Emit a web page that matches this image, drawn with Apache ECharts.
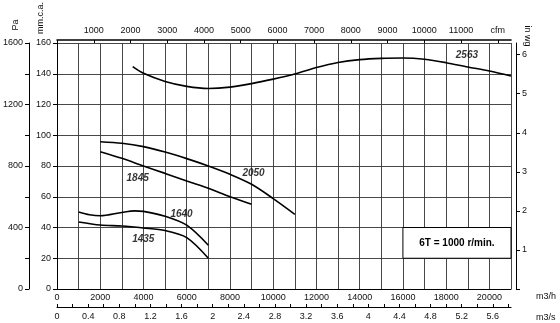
<!DOCTYPE html>
<html><head><meta charset="utf-8">
<script src="https://cdn.jsdelivr.net/npm/echarts@6/dist/echarts.min.js"></script>
<style>html,body{margin:0;padding:0;background:#fff}#c{width:560px;height:323px}</style>
</head><body><div id="c"></div>
<script>
// ---- data (flow in m3/h, pressure in mm w.c.) ----
const q2563 = [3500,4000,5000,6000,7000,8000,9000,10000,11000,12000,13000,14000,15000,16000,17000,18000,19000,20000,21000];
const h2563 = [144.6,140.3,135.0,131.8,130.4,131.3,133.6,136.5,139.8,144.0,147.3,149.2,150.0,150.2,149.4,147.2,144.4,141.8,138.5];
const q2050 = [2000,3000,4000,5000,6000,7000,8000,9000,10000,11000];
const h2050 = [95.8,94.8,92.6,89.1,84.8,80.0,74.6,68.1,58.8,48.6];
const q1845 = [2000,3000,4000,5000,6000,7000,8000,9000];
const h1845 = [89.3,85.0,80.0,75.2,70.2,65.5,60.0,55.1];
const q1640 = [1000,1500,2000,3000,3600,4000,5000,6000,7000];
const h1640 = [50.1,48.3,47.6,49.8,50.8,50.5,47.3,41.5,28.5];
const q1435 = [1000,2000,3000,4000,5000,6000,7000];
const h1435 = [43.6,41.6,41.0,39.7,38.0,33.4,20.0];

const curveNames = ['2563','2050','1845','1640','1435'];
const labelQ = [18960, 9090, 3730, 5760, 3990];
const labelH = [152.2, 75.3, 72.0, 48.6, 32.5];

const qMax = 21000;      // m3/h
const mmMax = 160;       // mm w.c.
const paMax = 1600;      // Pa
const inwgMax = 160 / 25.4;
const cfmMax = 21000 / 1.699;
const m3sMax = 21000 / 3600;
const speedNote = '6T = 1000 r/min.';

const FONT = '"Liberation Sans Narrow","Arial Narrow","Liberation Sans",Arial,sans-serif';
const txt = {color:'#111', fontFamily: FONT, fontSize: 9};

function pairs(q, h){ return q.map((v,i)=>[v,h[i]]); }

const chart = echarts.init(document.getElementById('c'), null, {renderer:'canvas'});
const curves = [[q2563,h2563],[q2050,h2050],[q1845,h1845],[q1640,h1640],[q1435,h1435]];

const series = curves.map((c,i)=>({
  type:'line', name: curveNames[i], xAxisIndex:0, yAxisIndex:0,
  data: pairs(c[0],c[1]), smooth:0.3, showSymbol:false, symbol:'none',
  lineStyle:{color:'#000', width:1.6}, z:5, silent:true
}));
series.push({
  type:'scatter', xAxisIndex:0, yAxisIndex:0, symbolSize:0, silent:true,
  data: curveNames.map((n,i)=>[labelQ[i], labelH[i], n]),
  label:{show:true, position:'inside', formatter:p=>p.data[2], color:'#000',
         fontFamily:'"Liberation Sans",Arial,sans-serif', fontSize:10, fontStyle:'italic', fontWeight:'bold'},
  z:6
});

const option = {
  backgroundColor:'#fff',
  animation:false,
  grid:{left:55, right:49, top:43, bottom:34, containLabel:false},
  xAxis:[
    { // m3/h
      type:'value', position:'bottom', min:0, max:qMax, interval:1000,
      axisLine:{show:true, onZero:false, lineStyle:{color:'#000', width:1.2}},
      axisTick:{show:false},
      splitLine:{show:true, lineStyle:{color:'#333', width:0.9}},
      axisLabel:Object.assign({margin:4, formatter:v=> (v%2000===0 ? String(v) : '')}, txt)
    },
    { // m3/s
      type:'value', position:'bottom', offset:18, min:0, max:m3sMax, interval:0.2,
      axisLine:{show:true, onZero:false, lineStyle:{color:'#000', width:1.2}},
      axisTick:{show:true, inside:true, length:3, lineStyle:{color:'#000'}},
      splitLine:{show:false},
      axisLabel:Object.assign({margin:5, showMaxLabel:false, formatter:v=>{const k=Math.round(v*10); return k%4===0 ? String(parseFloat((k/10).toFixed(1))) : '';}}, txt)
    },
    { // cfm
      type:'value', position:'top', offset:3, min:0, max:cfmMax, interval:1000,
      axisLine:{show:true, onZero:false, lineStyle:{color:'#000', width:1.6}},
      axisTick:{show:true, inside:true, length:3, lineStyle:{color:'#000'}},
      splitLine:{show:false},
      axisLabel:Object.assign({margin:5, showMaxLabel:false, formatter:v=> v===0 ? '' : (v===12000 ? 'cfm' : String(v))}, txt)
    }
  ],
  yAxis:[
    { // mm w.c.
      type:'value', position:'left', min:0, max:mmMax, interval:20,
      axisLine:{show:true, onZero:false, lineStyle:{color:'#000', width:1}},
      axisTick:{show:true, length:4, lineStyle:{color:'#000'}},
      splitLine:{show:true, lineStyle:{color:'#333', width:0.9}},
      axisLabel:Object.assign({margin:6}, txt)
    },
    { // Pa
      type:'value', position:'left', offset:28, min:0, max:paMax, interval:200,
      axisLine:{show:true, onZero:false, lineStyle:{color:'#000', width:1}},
      axisTick:{show:true, length:4, lineStyle:{color:'#000'}},
      splitLine:{show:false},
      axisLabel:Object.assign({margin:6, formatter:v=> v%400===0 ? String(v) : ''}, txt)
    },
    { // in wg
      type:'value', position:'right', offset:5, min:0, max:inwgMax, interval:1,
      axisLine:{show:true, onZero:false, lineStyle:{color:'#000', width:1}},
      axisTick:{show:true, length:4, lineStyle:{color:'#000'}},
      splitLine:{show:false},
      axisLabel:Object.assign({margin:6, showMaxLabel:false, formatter:v=> v===0 ? '' : String(v)}, txt)
    }
  ],
  series: series
};
chart.setOption(option);

// white note box covering the cells 16000-21000 m3/h, 20-40 mm
const p1 = chart.convertToPixel({xAxisIndex:0, yAxisIndex:0}, [16000, 40]);
const p2 = chart.convertToPixel({xAxisIndex:0, yAxisIndex:0}, [qMax, 20]);
chart.setOption({graphic:[
  {id:'t_pa', type:'text', x:16, y:25, rotation:Math.PI/2, style:{text:'Pa', fill:'#111', font:'9px '+FONT, align:'center', verticalAlign:'middle'}, z:60},
  {id:'t_mm', type:'text', x:41, y:18, rotation:Math.PI/2, style:{text:'mm.c.a.', fill:'#111', font:'9px '+FONT, align:'center', verticalAlign:'middle'}, z:60},
  {id:'t_in', type:'text', x:527, y:36, rotation:-Math.PI/2, style:{text:'in wg', fill:'#111', font:'9px '+FONT, align:'center', verticalAlign:'middle'}, z:60},
  {id:'t_h', type:'text', x:536, y:292, style:{text:'m3/h', fill:'#111', font:'9px '+FONT}, z:60},
  {id:'t_s', type:'text', x:536, y:313, style:{text:'m3/s', fill:'#111', font:'9px '+FONT}, z:60},
  {id:'box', type:'rect', z:50, shape:{x:p1[0], y:p1[1], width:p2[0]-p1[0], height:p2[1]-p1[1]},
   style:{fill:'#fff', stroke:'#000', lineWidth:1}},
  {id:'note', type:'text', z:51, x:(p1[0]+p2[0])/2, y:(p1[1]+p2[1])/2,
   style:{text:speedNote, fill:'#000', font:'bold 10px "Liberation Sans",Arial,sans-serif', align:'center', verticalAlign:'middle'}}
]});
</script></body></html>
